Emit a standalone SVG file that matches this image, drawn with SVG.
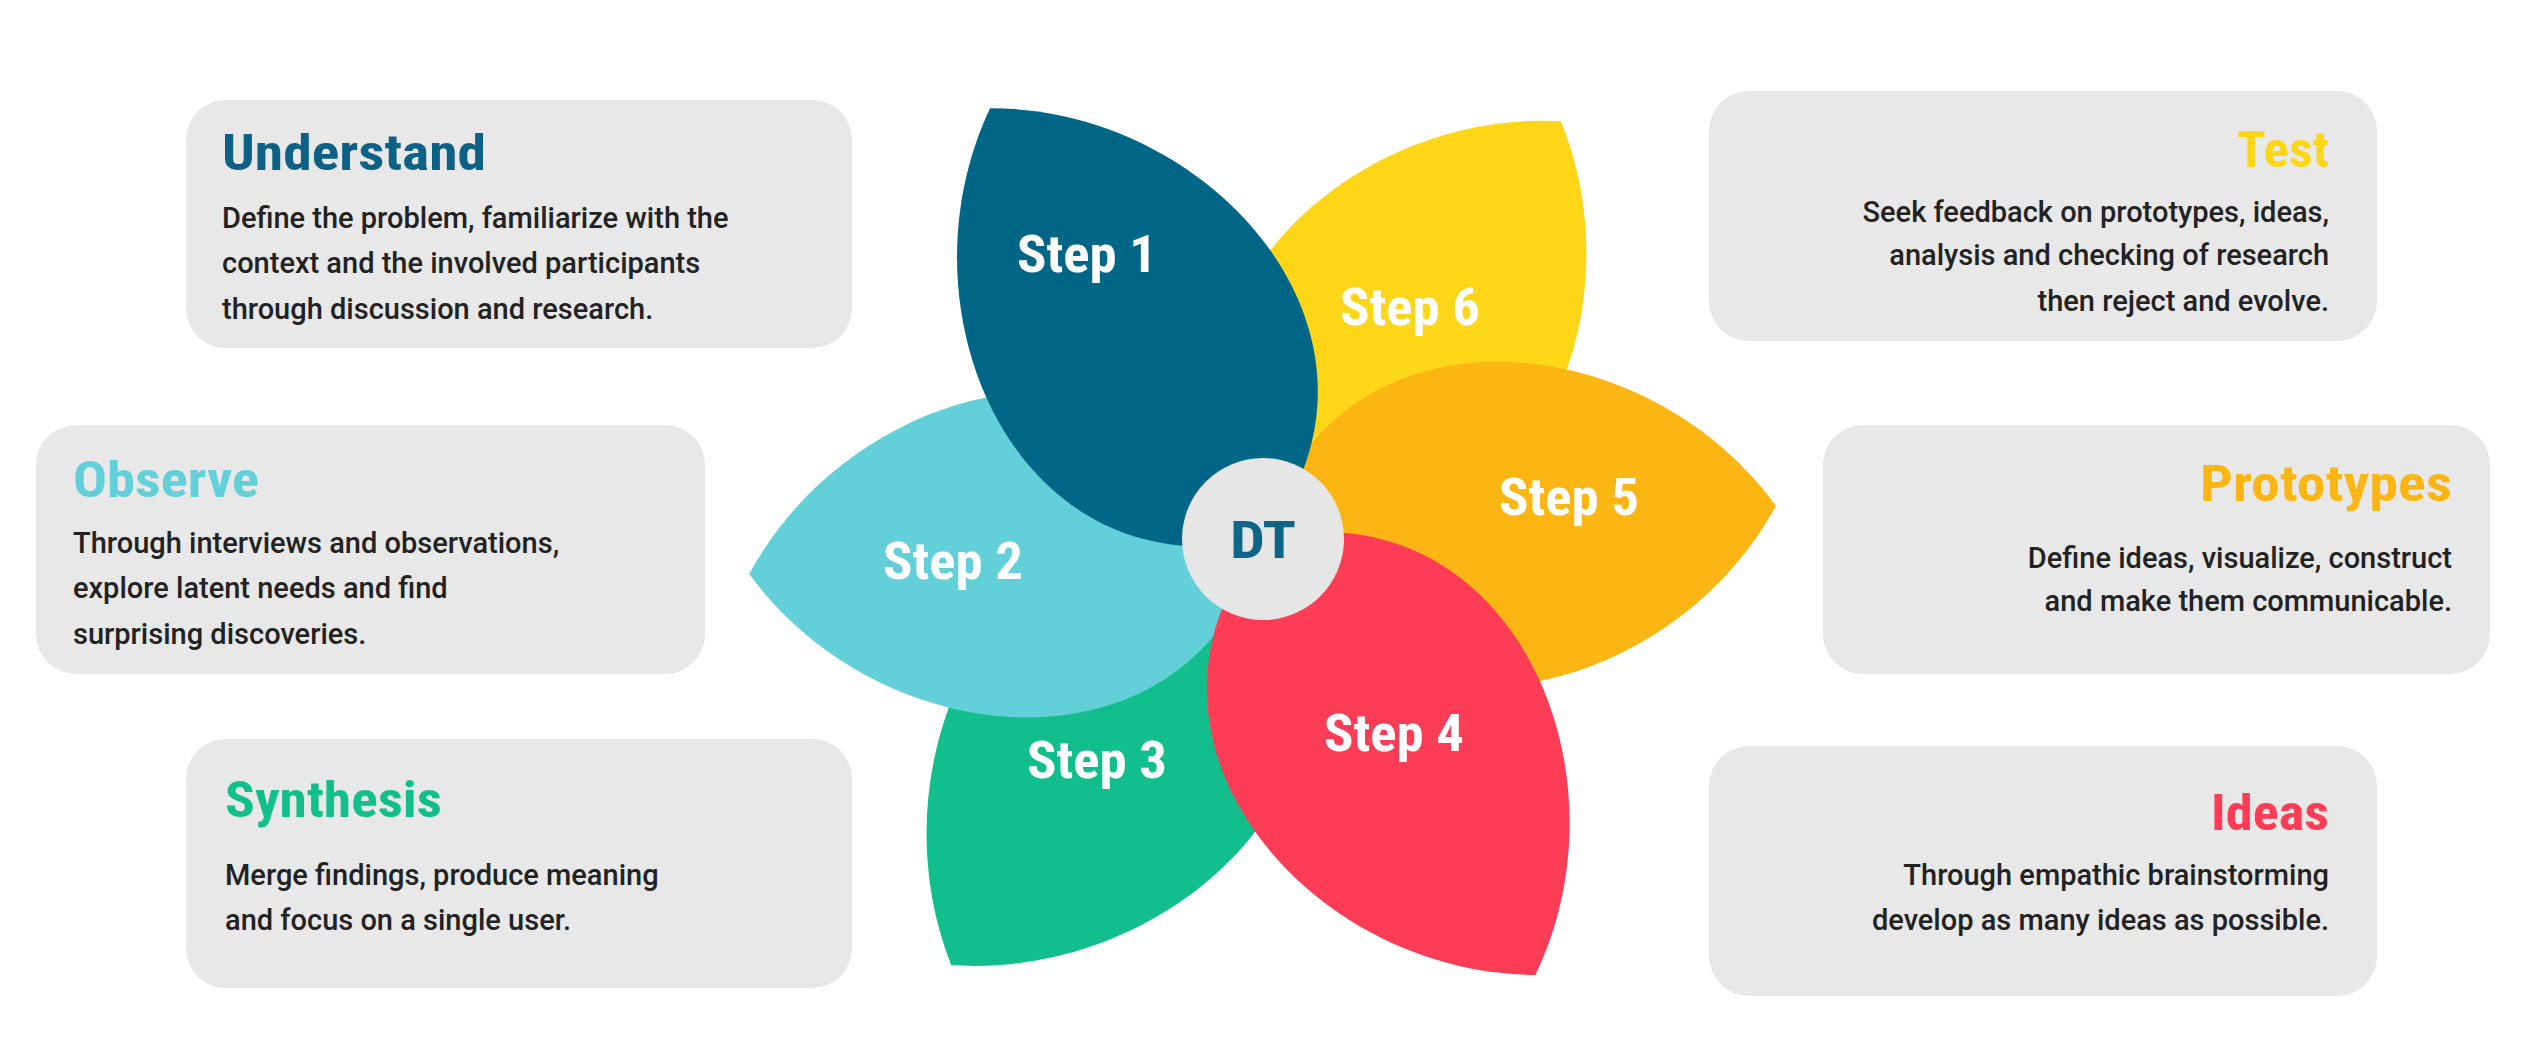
<svg xmlns="http://www.w3.org/2000/svg" width="2536" height="1056" viewBox="0 0 2536 1056">
<style>
.box{fill:#E8E8E8}
.t{font-family:"Roboto Condensed","Liberation Sans Narrow",Roboto,sans-serif;font-weight:700;font-size:50px;font-stretch:condensed}
.b{font-family:Roboto,"Liberation Sans",sans-serif;font-weight:500;font-size:29px;fill:#222}
.s{font-family:"Roboto Condensed","Liberation Sans Narrow",Roboto,sans-serif;font-weight:700;font-size:52px;fill:#fff;text-anchor:middle}
.r{text-anchor:end}
</style>
<defs>
<path id="petal" d="M0,0 C80,-230 380,-190 500,0 C380,190 80,230 0,0 Z"/>
</defs>
<rect width="2536" height="1056" fill="#fff"/>
<g id="understand"><rect class="box" x="186" y="100" width="666" height="248" rx="40"/>
<text class="t" x="222" y="170" fill="#0D6184" textLength="264" lengthAdjust="spacingAndGlyphs">Understand</text>
<text class="b" x="222" y="228">Define the problem, familiarize with the</text>
<text class="b" x="222" y="273">context and the involved participants</text>
<text class="b" x="222" y="319">through discussion and research.</text></g>
<g id="observe"><rect class="box" x="36" y="425" width="669" height="249" rx="40"/>
<text class="t" x="73" y="497" fill="#63CFD9" textLength="186" lengthAdjust="spacingAndGlyphs">Observe</text>
<text class="b" x="73" y="553">Through interviews and observations,</text>
<text class="b" x="73" y="598">explore latent needs and find</text>
<text class="b" x="73" y="644">surprising discoveries.</text></g>
<g id="synthesis"><rect class="box" x="186" y="739" width="666" height="249" rx="40"/>
<text class="t" x="225" y="817" fill="#12BF8C" textLength="217" lengthAdjust="spacingAndGlyphs">Synthesis</text>
<text class="b" x="225" y="885">Merge findings, produce meaning</text>
<text class="b" x="225" y="930">and focus on a single user.</text></g>
<g id="test"><rect class="box" x="1709" y="91" width="668" height="250" rx="40"/>
<text class="t r" x="2329" y="167" fill="#FDD618" textLength="92" lengthAdjust="spacingAndGlyphs">Test</text>
<text class="b r" x="2329" y="222">Seek feedback on prototypes, ideas,</text>
<text class="b r" x="2329" y="265">analysis and checking of research</text>
<text class="b r" x="2329" y="311">then reject and evolve.</text></g>
<g id="prototypes"><rect class="box" x="1823" y="425" width="667" height="249" rx="40"/>
<text class="t r" x="2452" y="501" fill="#FBB614" textLength="252" lengthAdjust="spacingAndGlyphs">Prototypes</text>
<text class="b r" x="2452" y="568">Define ideas, visualize, construct</text>
<text class="b r" x="2452" y="611">and make them communicable.</text></g>
<g id="ideas"><rect class="box" x="1709" y="746" width="668" height="250" rx="40"/>
<text class="t r" x="2329" y="830" fill="#FD3C55" textLength="118" lengthAdjust="spacingAndGlyphs">Ideas</text>
<text class="b r" x="2329" y="885">Through empathic brainstorming</text>
<text class="b r" x="2329" y="930">develop as many ideas as possible.</text></g>
<g id="connectors"></g>
<g id="flower">
<use href="#petal" fill="#FDD618" transform="translate(1263,539) rotate(-54.5) scale(1.026)"/>
<use href="#petal" fill="#FBB614" transform="translate(1263,539) rotate(-3.7) scale(1.028)"/>
<use href="#petal" fill="#12BF8C" transform="translate(1263,539) rotate(126.2) scale(1.056)"/>
<use href="#petal" fill="#63CFD9" transform="translate(1263,539) rotate(176.1) scale(1.03)"/>
<use href="#petal" fill="#006687" transform="translate(1263,539) rotate(-122.35) scale(1.02)"/>
<use href="#petal" fill="#FD3C55" transform="translate(1263,539) rotate(58) scale(1.028)"/>
</g>
<g id="step1"><text class="s" x="1087" y="272" textLength="140" lengthAdjust="spacingAndGlyphs">Step 1</text></g>
<g id="step6"><text class="s" x="1410" y="325" textLength="140" lengthAdjust="spacingAndGlyphs">Step 6</text></g>
<g id="step5"><text class="s" x="1569" y="515" textLength="140" lengthAdjust="spacingAndGlyphs">Step 5</text></g>
<g id="step4"><text class="s" x="1394" y="751" textLength="140" lengthAdjust="spacingAndGlyphs">Step 4</text></g>
<g id="step3"><text class="s" x="1097" y="778" textLength="140" lengthAdjust="spacingAndGlyphs">Step 3</text></g>
<g id="step2"><text class="s" x="953" y="579" textLength="140" lengthAdjust="spacingAndGlyphs">Step 2</text></g>
<g id="dt"><circle cx="1263" cy="539" r="81" fill="#E6E6E6"/>
<text class="s" x="1263" y="558" fill="#0D6686" style="fill:#0D6686" textLength="66" lengthAdjust="spacingAndGlyphs">DT</text></g>
</svg>
